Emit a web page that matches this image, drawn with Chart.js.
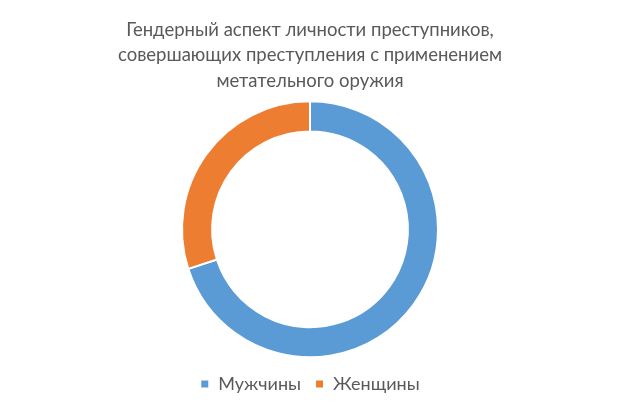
<!DOCTYPE html>
<html>
<head>
<meta charset="utf-8">
<script src="https://cdn.jsdelivr.net/npm/chart.js@4"></script>
<style>
  html, body { margin: 0; padding: 0; background: #fff; }
  #wrap { width: 620px; height: 413px; }
</style>
</head>
<body>
<div id="wrap"><canvas id="genderChart" width="620" height="413"></canvas></div>
<script>
// ── Data ───────────────────────────────────────────────────────────────────
const titleLines = [
    'Гендерный аспект личности преступников,',
    'совершающих преступления с применением',
    'метательного оружия'
];
const categories = ['Мужчины', 'Женщины'];
const shares     = [70, 30];
const colors     = ['#5b9bd5', '#ed7d31'];

const FONT = 'Lato, "Open Sans", sans-serif';

// ── Doughnut ───────────────────────────────────────────────────────────────
const ctx = document.getElementById('genderChart').getContext('2d');
new Chart(ctx, {
    type: 'doughnut',
    data: {
        labels: categories,
        datasets: [{
            data: shares,
            backgroundColor: colors,
            borderColor: '#ffffff',
            borderWidth: 2
        }]
    },
    options: {
        responsive: false,
        animation: false,
        cutout: '76.5%',
        radius: 128,
        layout: { padding: { top: 0, bottom: 10 } },
        plugins: {
            title: {
                display: true,
                text: titleLines,
                color: '#595959',
                font: { family: FONT, size: 18.5, weight: 'normal', lineHeight: 1.38 },
                padding: { top: 17, bottom: 4 }
            },
            legend: {
                display: true,
                position: 'bottom',
                labels: {
                    color: '#595959',
                    font: { family: FONT, size: 18 },
                    boxWidth: 9,
                    boxHeight: 9,
                    padding: 14
                }
            },
            tooltip: { enabled: false }
        }
    }
});
</script>
</body>
</html>
